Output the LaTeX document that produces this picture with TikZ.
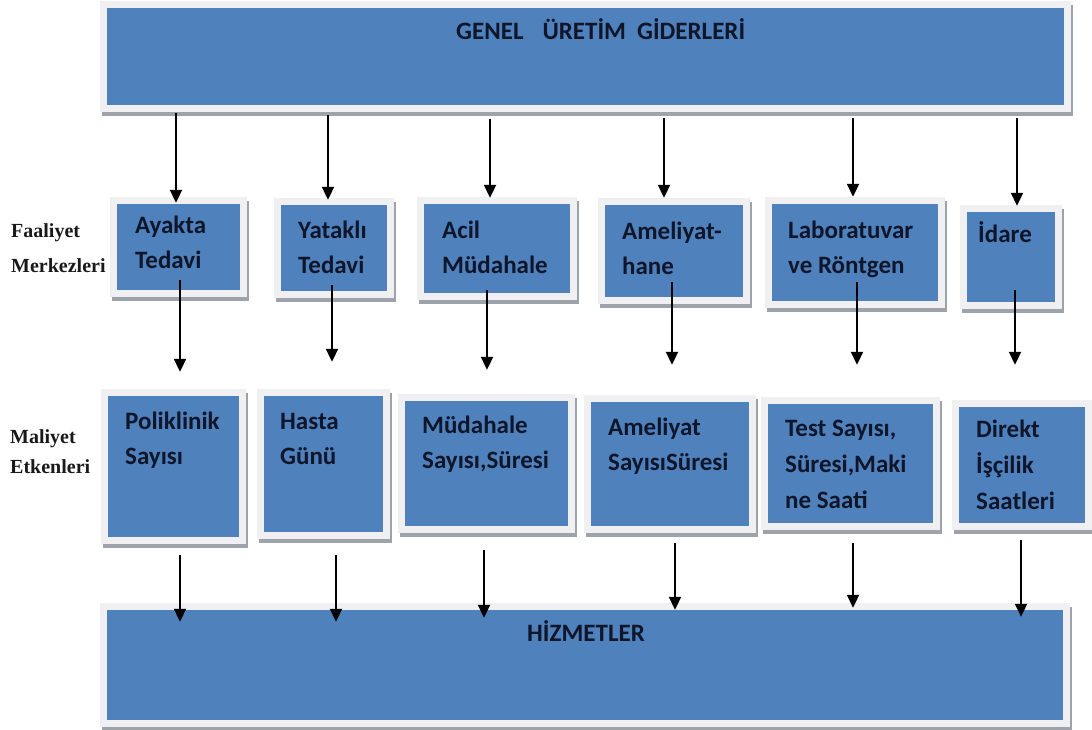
\documentclass[tikz,border=0pt]{standalone}
\usepackage{fontspec}
\setmainfont{Liberation Serif}
\newfontfamily\boxfont{Carlito}
\usetikzlibrary{shadows,arrows.meta}

\definecolor{boxblue}{RGB}{79,129,189}
\definecolor{boxframe}{RGB}{240,240,242}
\definecolor{boxshadow}{RGB}{158,163,171}
\definecolor{darktext}{RGB}{16,22,42}

\tikzstyle{box} = [rectangle, inner sep=0pt, fill=boxframe,
  drop shadow={shadow xshift=2pt, shadow yshift=-4pt, fill=boxshadow, opacity=1},
  path picture={\fill[boxblue] ([shift={(7pt,7pt)}]path picture bounding box.south west) rectangle ([shift={(-7pt,-7pt)}]path picture bounding box.north east);}]
\tikzstyle{boxtext} = [anchor=base west, align=left, inner sep=0pt, text=darktext, font=\boxfont\bfseries\fontsize{25pt}{35pt}\selectfont]
\tikzstyle{sidetext} = [anchor=base west, align=left, inner sep=0pt, text=black!90, font=\bfseries\fontsize{20pt}{35pt}\selectfont]
\tikzstyle{arrow} = [line width=2pt, -{Triangle[width=12pt,length=13pt]}]

\begin{document}
\begin{tikzpicture}[x=1pt, y=-1pt]
  \useasboundingbox (0,0) rectangle (1092,730);

  % boxes
  \node (Genel Uretim) [box, minimum width=971pt, minimum height=111pt] at (585.5,56.5) {};

  \node (Ayakta Tedavi) [box, minimum width=137pt, minimum height=100pt] at (178.5,247) {};
  \node (Yatakli Tedavi) [box, minimum width=120pt, minimum height=100pt] at (334,248) {};
  \node (Acil Mudahale) [box, minimum width=160pt, minimum height=103pt] at (497,248.5) {};
  \node (Ameliyathane) [box, minimum width=152pt, minimum height=106pt] at (674,251) {};
  \node (Laboratuvar) [box, minimum width=180pt, minimum height=111pt] at (855,252.5) {};
  \node (Idare) [box, minimum width=102pt, minimum height=104pt] at (1011,257) {};

  \node (Poliklinik) [box, minimum width=145pt, minimum height=155pt] at (173.5,466.5) {};
  \node (Hasta Gunu) [box, minimum width=133pt, minimum height=150pt] at (323.5,464) {};
  \node (Mudahale Sayisi) [box, minimum width=177pt, minimum height=139pt] at (486.5,463.5) {};
  \node (Ameliyat Sayisi) [box, minimum width=172pt, minimum height=138pt] at (670,464) {};
  \node (Test Sayisi) [box, minimum width=179pt, minimum height=133pt] at (850.5,463.5) {};
  \node (Iscilik) [box, minimum width=140pt, minimum height=130pt] at (1022,465) {};

  \node (Hizmetler) [box, minimum width=970pt, minimum height=124pt] at (585,665) {};

  % texts (base = last line)
  \node (Genel Uretim t) [boxtext] at (456,40) {GENEL\hspace{19pt}ÜRETİM\hspace{11pt}GİDERLERİ};
  \node (Hizmetler t) [boxtext, anchor=base] at (586,641) {HİZMETLER};

  \node (Ayakta Tedavi t) [boxtext] at (135,268) {Ayakta\\Tedavi};
  \node (Yatakli Tedavi t) [boxtext] at (298,273) {Yataklı\\Tedavi};
  \node (Acil Mudahale t) [boxtext] at (442,273) {Acil\\Müdahale};
  \node (Ameliyathane t) [boxtext] at (622,274) {Ameliyat-\\hane};
  \node (Laboratuvar t) [boxtext] at (788,273) {Laboratuvar\\ve Röntgen};
  \node (Idare t) [boxtext] at (978,243) {İdare};

  \node (Poliklinik t) [boxtext] at (125,464) {Poliklinik\\Sayısı};
  \node (Hasta Gunu t) [boxtext] at (280,464) {Hasta\\Günü};
  \node (Mudahale Sayisi t) [boxtext] at (422,468) {Müdahale\\Sayısı,Süresi};
  \node (Ameliyat Sayisi t) [boxtext] at (608,470) {Ameliyat\\SayısıSüresi};
  \node (Test Sayisi t) [boxtext, font=\boxfont\bfseries\fontsize{25pt}{36pt}\selectfont] at (785,508) {Test Sayısı,\\Süresi,Maki\\ne Saati};
  \node (Iscilik t) [boxtext, font=\boxfont\bfseries\fontsize{25pt}{36pt}\selectfont] at (976,509) {Direkt\\İşçilik\\Saatleri};

  \node (Faaliyet) [sidetext] at (11,272) {Faaliyet\\Merkezleri};
  \node (Maliyet) [sidetext, font=\bfseries\fontsize{20pt}{30pt}\selectfont] at (10,473) {Maliyet\\Etkenleri};

  % arrows: giderler -> faaliyet merkezleri
  \draw [arrow, shorten >=-6pt] ([xshift=-2.5pt,yshift=-1pt]Ayakta Tedavi.north |- Genel Uretim.south) -- ([xshift=-2.5pt]Ayakta Tedavi.north);
  \draw [arrow, shorten >=-2pt] ([xshift=-6pt,yshift=-3pt]Yatakli Tedavi.north |- Genel Uretim.south) -- ([xshift=-6pt]Yatakli Tedavi.north);
  \draw [arrow, shorten >=-1pt] ([xshift=-7pt,yshift=-7pt]Acil Mudahale.north |- Genel Uretim.south) -- ([xshift=-7pt]Acil Mudahale.north);
  \draw [arrow] ([xshift=-10pt,yshift=-6pt]Ameliyathane.north |- Genel Uretim.south) -- ([xshift=-10pt]Ameliyathane.north);
  \draw [arrow] ([xshift=-2pt,yshift=-6pt]Laboratuvar.north |- Genel Uretim.south) -- ([xshift=-2pt]Laboratuvar.north);
  \draw [arrow, shorten >=-1pt] ([xshift=6pt,yshift=-6pt]Idare.north |- Genel Uretim.south) -- ([xshift=6pt]Idare.north);

  % arrows: faaliyet merkezleri -> maliyet etkenleri
  \draw [arrow, shorten >=17pt] ([xshift=1.5pt,yshift=17pt]Ayakta Tedavi.south) -- ([xshift=1.5pt]Ayakta Tedavi.south |- Poliklinik.north);
  \draw [arrow, shorten >=27pt] ([xshift=-2pt,yshift=13pt]Yatakli Tedavi.south) -- ([xshift=-2pt]Yatakli Tedavi.south |- Hasta Gunu.north);
  \draw [arrow, shorten >=24pt] ([xshift=-10pt,yshift=10pt]Acil Mudahale.south) -- ([xshift=-10pt]Acil Mudahale.south |- Mudahale Sayisi.north);
  \draw [arrow, shorten >=30pt] ([xshift=-2pt,yshift=22pt]Ameliyathane.south) -- ([xshift=-2pt]Ameliyathane.south |- Ameliyat Sayisi.north);
  \draw [arrow, shorten >=32pt] ([xshift=2pt,yshift=26pt]Laboratuvar.south) -- ([xshift=2pt]Laboratuvar.south |- Test Sayisi.north);
  \draw [arrow, shorten >=35pt] ([xshift=4pt,yshift=19pt]Idare.south) -- ([xshift=4pt]Idare.south |- Iscilik.north);

  % arrows: maliyet etkenleri -> hizmetler
  \draw [arrow, shorten >=-19pt] ([xshift=6.5pt,yshift=-11pt]Poliklinik.south) -- ([xshift=6.5pt]Poliklinik.south |- Hizmetler.north);
  \draw [arrow, shorten >=-19pt] ([xshift=12.5pt,yshift=-16pt]Hasta Gunu.south) -- ([xshift=12.5pt]Hasta Gunu.south |- Hizmetler.north);
  \draw [arrow, shorten >=-15pt] ([xshift=-2.5pt,yshift=-17pt]Mudahale Sayisi.south) -- ([xshift=-2.5pt]Mudahale Sayisi.south |- Hizmetler.north);
  \draw [arrow, shorten >=-7pt] ([xshift=5pt,yshift=-10pt]Ameliyat Sayisi.south) -- ([xshift=5pt]Ameliyat Sayisi.south |- Hizmetler.north);
  \draw [arrow, shorten >=-5pt] ([xshift=2.5pt,yshift=-13pt]Test Sayisi.south) -- ([xshift=2.5pt]Test Sayisi.south |- Hizmetler.north);
  \draw [arrow, shorten >=-14pt] ([xshift=-1pt,yshift=-10pt]Iscilik.south) -- ([xshift=-1pt]Iscilik.south |- Hizmetler.north);
\end{tikzpicture}
\end{document}
